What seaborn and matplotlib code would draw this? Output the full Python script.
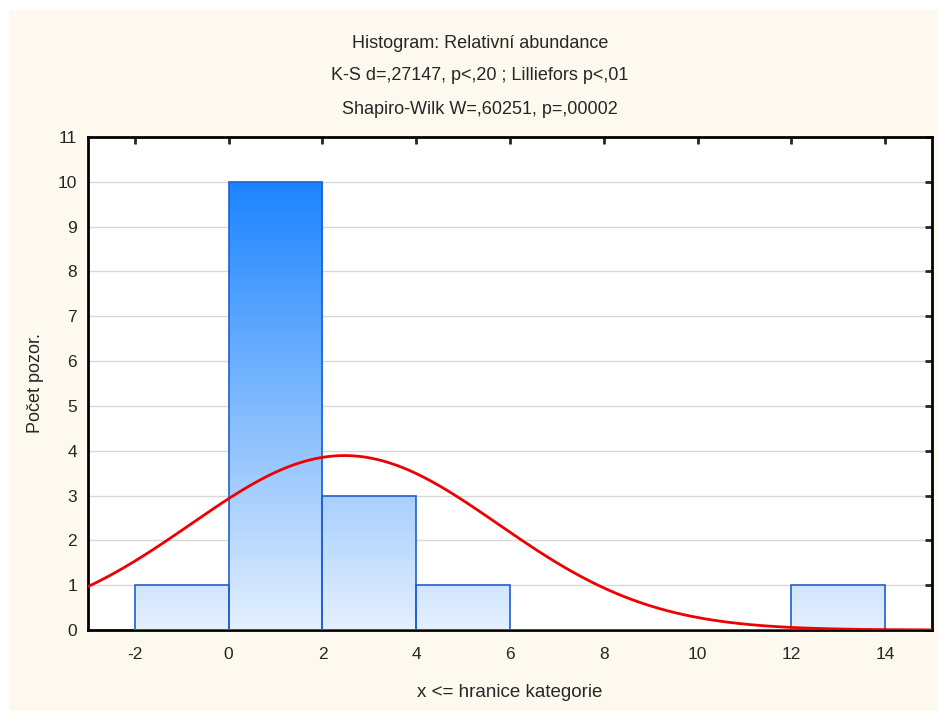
import numpy as np
import seaborn as sns
import matplotlib.pyplot as plt
from matplotlib.patches import Rectangle
from matplotlib.colors import LinearSegmentedColormap

# histogram data (bin edges and counts)
bin_left = [-2, 0, 2, 4, 12]
bin_counts = [1, 10, 3, 1, 1]
bin_width = 2
n_obs = sum(bin_counts)

# fitted normal curve parameters
fit_mean = 2.47
fit_sd = 3.28

title_lines = ["Histogram: Relativní abundance",
               "K-S d=,27147, p<,20 ; Lilliefors p<,01",
               "Shapiro-Wilk W=,60251, p=,00002"]
x_ticks = [-2, 0, 2, 4, 6, 8, 10, 12, 14]
y_ticks = list(range(0, 12))

sns.set_style("white")
plt.rcParams['font.family'] = ['Liberation Sans', 'DejaVu Sans']
plt.rcParams['axes.unicode_minus'] = False

fig = plt.figure(figsize=(9.38, 7.11), dpi=100)
fig.patch.set_facecolor("white")
# cream background panel
fig.patches.append(Rectangle((9 / 938, 0), 1, 1 - 10 / 711, transform=fig.transFigure,
                             facecolor="#fdf9ee", edgecolor="none", zorder=-10))

ax = fig.add_axes([88 / 938, 1 - 630 / 711, (932 - 88) / 938, (630 - 137) / 711])
ax.set_facecolor("white")

centers = [b + bin_width / 2 for b in bin_left]
sns.histplot(x=centers, weights=bin_counts, binwidth=bin_width, binrange=(-2, 14),
             ax=ax, stat="count", element="bars", fill=False,
             color="#1f5fd6", linewidth=1.2, zorder=3)
for p in ax.patches:
    p.set_edgecolor("#1f5fd6")

# gradient fill clipped to each bar
cmap = LinearSegmentedColormap.from_list("grad", ["#e4f0fd", "#1a84ff"])
grad = np.linspace(0, 1, 256).reshape(-1, 1)
for p in list(ax.patches):
    h = p.get_height()
    if h <= 0:
        continue
    im = ax.imshow(grad, extent=(-3, 15, 0, 10), origin="lower", aspect="auto",
                   cmap=cmap, zorder=2)
    clip = Rectangle((p.get_x(), 0), p.get_width(), h, transform=ax.transData)
    im.set_clip_path(clip)

# normal curve
xs = np.linspace(-3, 15, 400)
ys = n_obs * bin_width / (fit_sd * np.sqrt(2 * np.pi)) * np.exp(-(xs - fit_mean) ** 2 / (2 * fit_sd ** 2))
sns.lineplot(x=xs, y=ys, ax=ax, color="#ee0000", linewidth=2, zorder=4)

ax.set_xlim(-3, 15)
ax.set_ylim(0, 11)
ax.set_xticks(x_ticks)
ax.set_yticks(y_ticks)
ax.yaxis.grid(True, color="#d8d8d8", linewidth=1, zorder=0)
ax.xaxis.grid(False)
ax.set_axisbelow(True)
for s in ax.spines.values():
    s.set_color("black")
    s.set_linewidth(2)
ax.tick_params(axis="both", direction="in", length=5, width=2, labelsize=12.5,
               top=True, right=True, labeltop=False, labelright=False, pad=12)
ax.tick_params(axis="y", pad=8)

ax.set_xlabel("x <= hranice kategorie", fontsize=13.5, labelpad=16)
ax.set_ylabel("Počet pozor.", fontsize=13, labelpad=10)

for i, line in enumerate(title_lines):
    fig.text(480 / 938, 1 - (43 + 33 * i) / 711, line, ha="center", va="center", fontsize=13)

fig.savefig("out.png", dpi=100, facecolor=fig.get_facecolor())
